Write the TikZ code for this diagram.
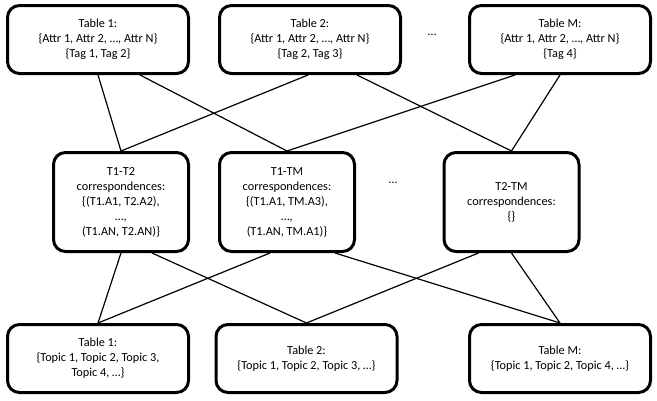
\documentclass[tikz,border=0pt]{standalone}
\usepackage{fontspec}
\setmainfont{Carlito}
\usetikzlibrary{calc}
\begin{document}
\begin{tikzpicture}[x=0.75pt,y=-0.75pt,
  txt/.style={font=\fontsize{9.2}{11.25}\selectfont,align=center},
  box/.style={txt,draw,line width=2.25pt,rounded corners=9pt,inner sep=0pt},
  wide/.style={box,minimum width=135.75pt,minimum height=51pt},
  corr/.style={box,minimum width=101.25pt,minimum height=74.25pt},
  link/.style={line width=0.9pt}]
\useasboundingbox (0,0) rectangle (657,400);
% top row
\node[wide] (t1) at (98,39.5) {Table 1:\\\{Attr 1, Attr 2, …, Attr N\}\\\{Tag 1, Tag 2\}};
\node[wide] (t2) at (310,39.5) {Table 2:\\\{Attr 1, Attr 2, …, Attr N\}\\\{Tag 2, Tag 3\}};
\node[wide] (tm) at (560,39.5) {Table M:\\\{Attr 1, Attr 2, …, Attr N\}\\\{Tag 4\}};
\node[txt] (d1) at (432,35) {…};
% middle row
\node[corr] (c12) at (121,202) {T1-T2\\correspondences:\\\{(T1.A1, T2.A2),\\…,\\(T1.AN, T2.AN)\}};
\node[corr] (c1m) at (287,202) {T1-TM\\correspondences:\\\{(T1.A1, TM.A3),\\…,\\(T1.AN, TM.A1)\}};
\node[corr] (c2m) at (511.5,202) {T2-TM\\correspondences:\\\{\}};
\node[txt] (d2) at (393,183) {…};
% bottom row
\node[wide] (b1) at (98,358.5) {Table 1:\\\{Topic 1, Topic 2, Topic 3,\\Topic 4, …\}};
\node[wide] (b2) at (306.5,358.5) {Table 2:\\\{Topic 1, Topic 2, Topic 3, …\}};
\node[wide] (bm) at (560,358.5) {Table M:\\\{Topic 1, Topic 2, Topic 4, …\}};
% connectors top -> middle
\draw[link] (t1.south) -- (c12.north);
\draw[link] ($(t1.south)+(42,0)$) -- (c1m.north);
\draw[link] ($(t2.south)+(-2,0)$) -- (c12.north);
\draw[link] ($(t2.south)+(47,0)$) -- (c2m.north);
\draw[link] ($(tm.south)+(-45,0)$) -- (c1m.north);
\draw[link] (tm.south) -- (c2m.north);
% connectors middle -> bottom
\draw[link] (c12.south) -- (b1.north);
\draw[link] ($(c12.south)+(31,0)$) -- (b2.north);
\draw[link] ($(c1m.south)+(-17,0)$) -- (b1.north);
\draw[link] ($(c1m.south)+(48,0)$) -- (bm.north);
\draw[link] ($(c2m.south)+(-33,0)$) -- (b2.north);
\draw[link] (c2m.south) -- (bm.north);
\end{tikzpicture}
\end{document}
